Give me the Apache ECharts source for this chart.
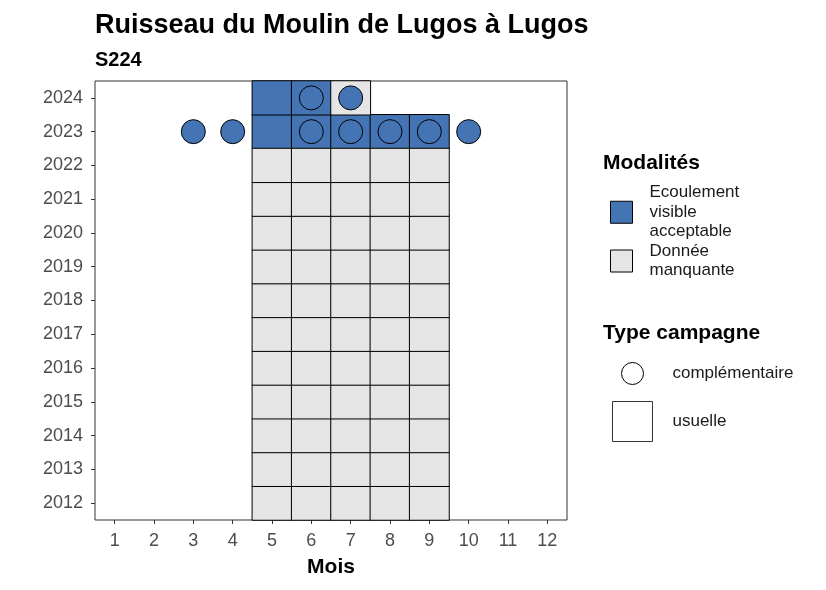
<!DOCTYPE html>
<html lang="fr">
<head>
	<meta charset="UTF-8">
	<title>S224</title>
	<script src="https://cdn.jsdelivr.net/npm/echarts@6/dist/echarts.min.js"></script>
	<style>
		body { margin: 0; background: #fff; }
		#main { width: 826px; height: 590px; }
	</style>
</head>
<body>
	<div id="main"></div>
	<script type="text/javascript">
		var months = ['1', '2', '3', '4', '5', '6', '7', '8', '9', '10', '11', '12'];
		var years = ['2012', '2013', '2014', '2015', '2016', '2017', '2018', '2019', '2020', '2021', '2022', '2023', '2024'];

		// cases "usuelle" : [mois, annee]
		var ecoulement = [
			['5', '2023'], ['6', '2023'], ['7', '2023'], ['8', '2023'], ['9', '2023'],
			['5', '2024'], ['6', '2024']
		];
		var manquante = [['7', '2024']];
		for (var y = 2012; y <= 2022; y++) {
			['5', '6', '7', '8', '9'].forEach(function (m) {
				manquante.push([m, String(y)]);
			});
		}
		// campagnes complementaires
		var complementaire = [
			['3', '2023'], ['4', '2023'], ['6', '2023'], ['7', '2023'], ['8', '2023'],
			['9', '2023'], ['10', '2023'], ['6', '2024'], ['7', '2024']
		];

		var BLUE = '#4574b4';
		var GREY = '#e5e5e5';
		var FONT = 'Liberation Sans, Arial, sans-serif';

		// heatmap wants a 3rd value, otherwise the cell is skipped
		function cells(list) {
			return list.map(function (d) { return [d[0], d[1], 1]; });
		}

		var myChart = echarts.init(document.getElementById('main'));

		var option = {
			backgroundColor: '#fff',
			animation: false,
			textStyle: { fontFamily: FONT },
			title: [
				{ text: 'Ruisseau du Moulin de Lugos à Lugos', left: 90, top: 7,
					textStyle: { fontSize: 27, fontWeight: 'bold', color: '#000', fontFamily: FONT } },
				{ text: 'S224', left: 90, top: 45,
					textStyle: { fontSize: 20, fontWeight: 'bold', color: '#000', fontFamily: FONT } },
				{ text: 'Modalités', left: 598, top: 148,
					textStyle: { fontSize: 21, fontWeight: 'bold', color: '#000', fontFamily: FONT } },
				{ text: 'Type campagne', left: 598, top: 318,
					textStyle: { fontSize: 21, fontWeight: 'bold', color: '#000', fontFamily: FONT } }
			],
			legend: [
				{
					orient: 'vertical', left: 605, top: 178, itemGap: 0,
					itemWidth: 22, itemHeight: 22,
					selectedMode: false,
					data: [
						{ name: 'Ecoulement visible acceptable', icon: 'rect' },
						{ name: 'Donnée manquante', icon: 'rect' }
					],
					formatter: function (n) { return n === 'Donnée manquante' ? 'Donnée\nmanquante' : n.replace(/ /g, '\n'); },
					itemStyle: { borderColor: '#000', borderWidth: 1 },
					textStyle: { fontSize: 17, lineHeight: 19.5, color: '#1a1a1a', fontFamily: FONT, padding: [0, 0, 0, 12] }
				},
				{
					orient: 'vertical', left: 616, top: 357,
					itemWidth: 22, itemHeight: 22,
					selectedMode: false,
					data: [{ name: 'complémentaire', icon: 'circle' }],
					itemStyle: { color: '#fff', borderColor: '#000', borderWidth: 1 },
					textStyle: { fontSize: 17, color: '#1a1a1a', fontFamily: FONT, padding: [0, 0, 0, 24] }
				},
				{
					orient: 'vertical', left: 607, top: 396,
					itemWidth: 40, itemHeight: 40,
					selectedMode: false,
					data: [{ name: 'usuelle', icon: 'rect' }],
					itemStyle: { color: '#fff', borderColor: '#000', borderWidth: 1 },
					textStyle: { fontSize: 17, color: '#1a1a1a', fontFamily: FONT, padding: [0, 0, 0, 15] }
				}
			],
			grid: {
				left: 95, right: 259, top: 81, bottom: 70,
				show: true, borderColor: '#333', borderWidth: 1, backgroundColor: '#fff'
			},
			xAxis: {
				type: 'category', data: months,
				name: 'Mois', nameLocation: 'middle', nameGap: 37,
				nameTextStyle: { fontSize: 21, fontWeight: 'bold', color: '#000', fontFamily: FONT },
				axisLine: { show: false },
				axisTick: { show: true, alignWithLabel: true, length: 4, lineStyle: { color: '#333' } },
				axisLabel: { fontSize: 18, color: '#4d4d4d', margin: 12, fontFamily: FONT },
				splitLine: { show: false }
			},
			yAxis: {
				type: 'category', data: years,
				axisLine: { show: false },
				axisTick: { show: true, alignWithLabel: true, length: 4, lineStyle: { color: '#333' } },
				axisLabel: { fontSize: 18, color: '#4d4d4d', margin: 12, fontFamily: FONT },
				splitLine: { show: false }
			},
			series: [
				{
					name: 'Ecoulement visible acceptable', type: 'heatmap',
					data: cells(ecoulement),
					itemStyle: { color: BLUE, borderColor: '#000', borderWidth: 1 },
					emphasis: { disabled: true }
				},
				{
					name: 'Donnée manquante', type: 'heatmap',
					data: cells(manquante),
					itemStyle: { color: GREY, borderColor: '#000', borderWidth: 1 },
					emphasis: { disabled: true }
				},
				{
					name: 'complémentaire', type: 'scatter',
					data: complementaire,
					symbol: 'circle', symbolSize: 24, z: 5,
					itemStyle: { color: BLUE, borderColor: '#000', borderWidth: 1, opacity: 1 },
					emphasis: { disabled: true }
				},
				{
					name: 'usuelle', type: 'scatter', symbol: 'rect', data: []
				}
			]
		};

		myChart.setOption(option);
	</script>
</body>
</html>
